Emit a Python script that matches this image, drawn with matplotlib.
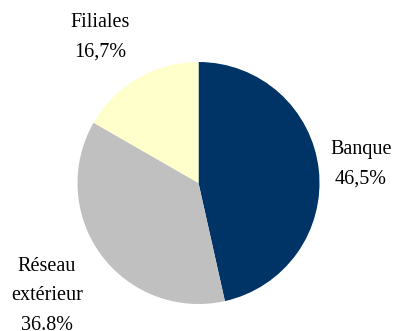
import matplotlib
matplotlib.use("Agg")
import matplotlib.pyplot as plt

labels = ["Banque\n46,5%", "Réseau\nextérieur\n36.8%", "Filiales\n16,7%"]
values = [46.5, 36.8, 16.7]
colors = ["#003366", "#C0C0C0", "#FFFFCC"]

W, H = 395, 331
fig = plt.figure(figsize=(W / 100, H / 100), dpi=100)
plt.rcParams['font.family'] = ['Liberation Serif', 'DejaVu Serif']

# pie area in pixels: x 77..320, y 62..304 (from top)
ax = fig.add_axes([77 / W, (H - 304) / H, 243 / W, 242 / H])
ax.pie(values, colors=colors, startangle=90, counterclock=False,
       wedgeprops=dict(linewidth=0))
ax.set_xlim(-1, 1)
ax.set_ylim(-1, 1)
ax.set_aspect('equal')
ax.axis('off')

# label positions (pixels, from top)
label_pos = [(361, 164), (47, 296), (100, 37)]
for lab, (x, y) in zip(labels, label_pos):
    fig.text(x / W, 1 - y / H, lab, ha='center', va='center',
             fontsize=14.5, linespacing=1.75)

plt.savefig("out.png", dpi=100)
